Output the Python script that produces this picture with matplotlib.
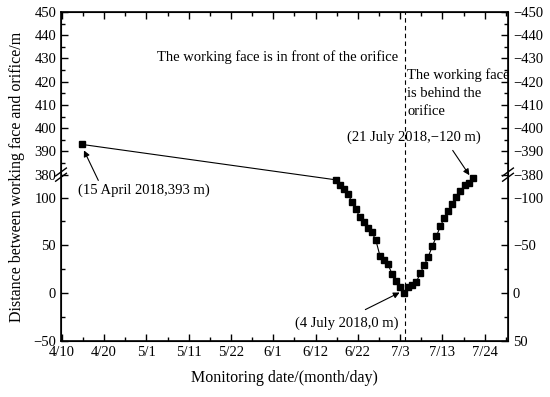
import numpy as np
import matplotlib
matplotlib.use("Agg")
from matplotlib import pyplot as plt
from matplotlib.ticker import FixedLocator

plt.rcParams["font.family"] = ["Liberation Serif", "DejaVu Serif"]

# x values are days after 10 April 2018
first_day = [5]
first_dist = [393]
days = list(range(68, 103))
dist = [118.6, 113, 109.5, 104.2, 95.8, 87.6, 79.9, 74.2, 68.3, 63.7,
        55.2, 39.1, 34.8, 30.3, 20.1, 13, 6.7, 0, 6, 8.8,
        11.3, 20.8, 29.3, 38.3, 48.9, 59.4, 70, 78.9, 85.9, 93.2,
        101.1, 107, 113, 115.1, 120]
x_tick_pos = [0, 10.5, 21, 31.5, 42, 52.5, 63, 73.5, 84, 94.5, 105]
x_tick_labels = ["4/10", "4/20", "5/1", "5/11", "5/22", "6/1", "6/12",
                 "6/22", "7/3", "7/13", "7/24"]
y_ticks = [-50, 0, 50, 100, 380, 390, 400, 410, 420, 430, 440, 450]
y_minor = [-25, 25, 75, 385, 395, 405, 415, 425, 435, 445]
orifice_day = 85.3

# broken axis: bottom part linear up to B, top part 380..450 stretched by K
B = 124.0
K = 2.43
EPS = 1e-4
TOP0 = B + (380 - B) * EPS


def fwd(y):
    y = np.asarray(y, dtype=float)
    return np.where(y <= B, y,
                    np.where(y < 380, B + (y - B) * EPS, TOP0 + (y - 380) * K))


def inv(v):
    v = np.asarray(v, dtype=float)
    return np.where(v <= B, v,
                    np.where(v < TOP0, B + (v - B) / EPS, 380 + (v - TOP0) / K))


fig = plt.figure(figsize=(5.5, 3.97), dpi=100)
ax = fig.add_axes([61 / 550, 1 - 341 / 397, 447 / 550, 329 / 397])
ax.set_yscale("function", functions=(fwd, inv))

all_x = first_day + days
all_y = first_dist + dist
ax.plot(all_x, all_y, color="black", lw=0.8, marker="s", ms=4.3)
ax.axvline(orifice_day, color="black", ls=(0, (4, 3)), lw=0.8)

ax.set_xlim(-0.2, 110.8)
ax.set_ylim(-50, 450)
ax.set_xticks(x_tick_pos)
ax.set_xticklabels(x_tick_labels)
ax.xaxis.set_minor_locator(FixedLocator([p + 5.25 for p in x_tick_pos]))
ax.set_yticks(y_ticks)
ax.set_yticklabels([str(v).replace("-", "\u2212") for v in y_ticks])
ax.yaxis.set_minor_locator(FixedLocator(y_minor))
ax.tick_params(which="both", direction="in", top=True, labelsize=10.5,
               colors="black")
ax.tick_params(which="major", length=5, width=1)
ax.tick_params(which="minor", length=3, width=1)
for s in ax.spines.values():
    s.set_linewidth(1.2)

ax2 = ax.twinx()
ax2.set_yscale("function", functions=(fwd, inv))
ax2.set_ylim(-50, 450)
ax2.set_yticks(y_ticks)
ax2.set_yticklabels([str(-v).replace("-", "\u2212") for v in y_ticks])
ax2.yaxis.set_minor_locator(FixedLocator(y_minor))
ax2.tick_params(which="both", direction="in", labelsize=10.5)
ax2.tick_params(which="major", length=5, width=1)
ax2.tick_params(which="minor", length=3, width=1)

# break marks
yb = (fwd(380) - fwd(-50)) / (fwd(450) - fwd(-50))
for xa in (0, 1):
    for dy in (-0.008, 0.008):
        ax.plot([xa - 0.012, xa + 0.012], [yb + dy - 0.012, yb + dy + 0.012],
                transform=ax.transAxes, color="black", lw=1, clip_on=False)

ax.set_xlabel("Monitoring date/(month/day)", fontsize=11.5, labelpad=8)
ax.set_ylabel("Distance between working face and orifice/m", fontsize=11.5,
              labelpad=6)

ax.text(53.6, 430.5, "The working face is in front of the orifice",
        fontsize=10.5, ha="center", va="center")
ax.text(85.8, 426, "The working face\nis behind the\norifice",
        fontsize=10.5, ha="left", va="top", linespacing=1.5)

arrow = dict(arrowstyle="-|>", color="black", lw=0.8, mutation_scale=9)
ax.annotate("(15 April 2018,393 m)", xy=(first_day[0] + 0.2, 391.5),
            xytext=(4, 108), fontsize=10.5, ha="left", va="center",
            arrowprops=dict(arrow, shrinkA=0, shrinkB=2, relpos=(0.17, 0.9)))
ax.annotate("(4 July 2018,0 m)", xy=(days[17] - 0.5, 2),
            xytext=(58, -31), fontsize=10.5, ha="left", va="center",
            arrowprops=dict(arrow, shrinkA=6, shrinkB=2, relpos=(0.55, 1)))
ax.annotate("(21 July 2018,\u2212120 m)", xy=(days[-1] - 0.4, 121),
            xytext=(104, 396), fontsize=10.5, ha="right", va="center",
            arrowprops=dict(arrow, shrinkA=3, shrinkB=2, relpos=(0.76, 0)))

fig.savefig("out.png", dpi=100)
